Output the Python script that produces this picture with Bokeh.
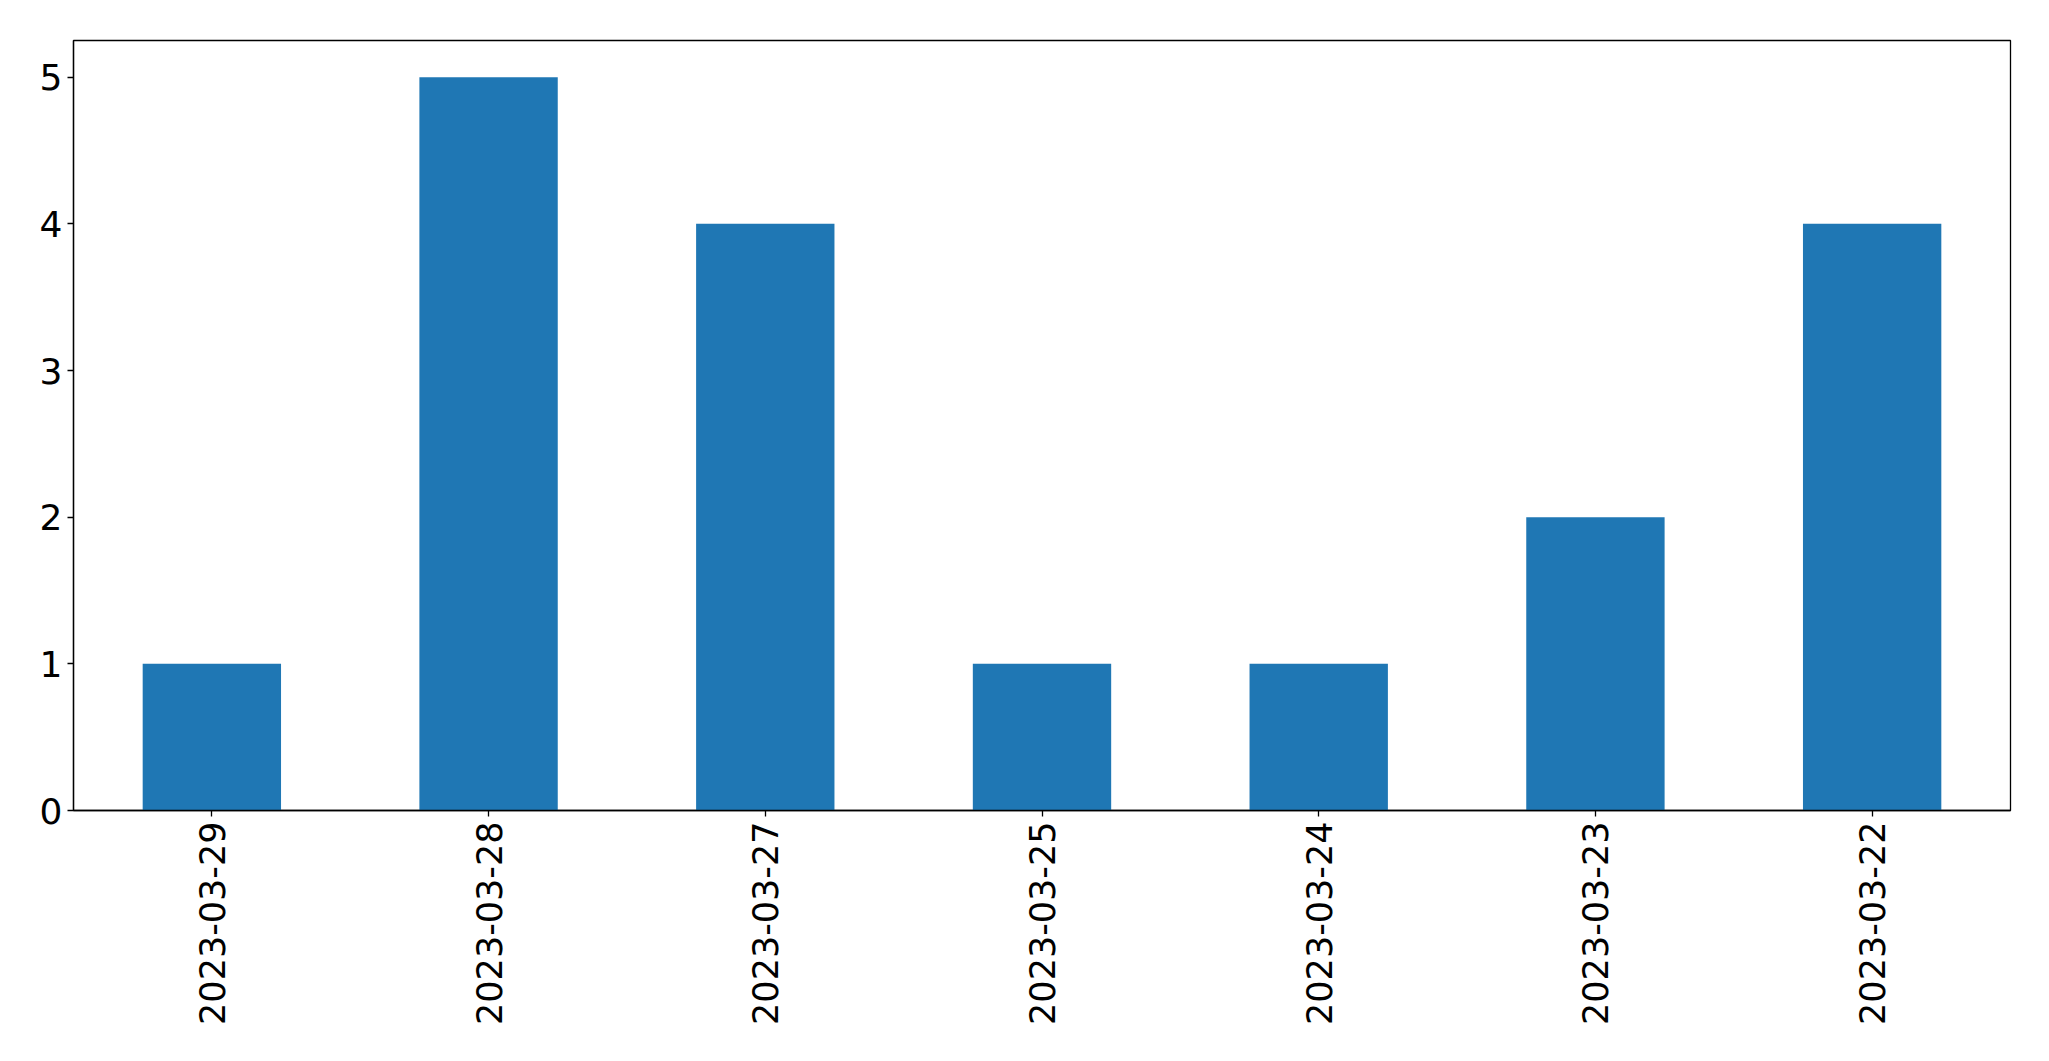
import math
from bokeh.plotting import figure
from bokeh.models import Range1d, FactorRange, FixedTicker, ColumnDataSource
from bokeh.embed import file_html
from bokeh.resources import INLINE

dates = ["2023-03-29", "2023-03-28", "2023-03-27", "2023-03-25",
         "2023-03-24", "2023-03-23", "2023-03-22"]
counts = [1, 5, 4, 1, 1, 2, 4]
y_ticks = [0, 1, 2, 3, 4, 5]

source = ColumnDataSource(dict(date=dates, count=counts))

p = figure(
    x_range=FactorRange(*dates, range_padding=0),
    y_range=Range1d(0, 5.25),
    frame_width=1937, frame_height=770,
    min_border_left=73, min_border_right=24,
    min_border_top=40, min_border_bottom=235,
    output_backend="svg", toolbar_location=None,
    background_fill_color="white", border_fill_color="white",
)

p.vbar(x="date", top="count", width=0.5, bottom=0, source=source,
       fill_color="#1f77b4", line_color=None)

p.outline_line_color = "black"
p.outline_line_width = 1.3
p.xgrid.grid_line_color = None
p.ygrid.grid_line_color = None

for ax in (p.xaxis[0], p.yaxis[0]):
    ax.axis_line_color = "black"
    ax.axis_line_width = 1.3
    ax.major_tick_line_color = "black"
    ax.major_tick_line_width = 1.3
    ax.major_tick_out = 6
    ax.major_tick_in = 0
    ax.minor_tick_line_color = None
    ax.major_label_text_font = "DejaVu Sans"
    ax.major_label_text_color = "black"

p.yaxis[0].ticker = FixedTicker(ticks=y_ticks)
p.yaxis[0].major_label_text_font_size = "36px"
p.yaxis[0].major_label_standoff = 5
p.xaxis[0].major_label_text_font_size = "35px"
p.xaxis[0].major_label_orientation = math.pi / 2
p.xaxis[0].major_label_standoff = 5

open("out.html", "w").write(file_html(p, INLINE))
